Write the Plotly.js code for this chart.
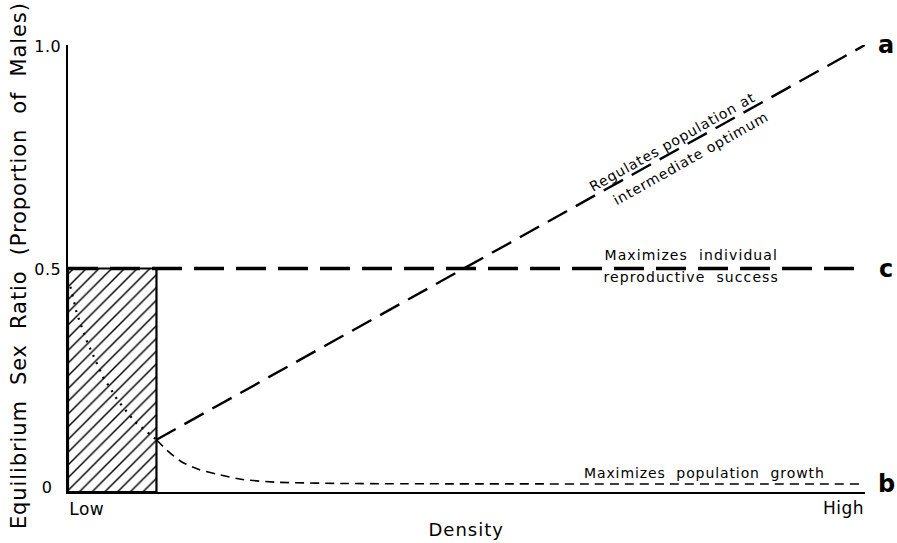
<!DOCTYPE html>
<html>
<head>
<meta charset="utf-8">
<script src="https://cdn.plot.ly/plotly-3.0.1.min.js"></script>
<style>html,body{margin:0;padding:0;background:#fff;}#chart{width:897px;height:543px;}</style>
</head>
<body>
<div id="chart"></div>
<script>
// ---- data (Density: 0 = Low, 1 = High; Sex ratio: proportion of males) ----
var yTickVals = [0, 0.5, 1];
var yTickText = ["0", "0.5", "1.0"];
var xEndLabels = ["Low", "High"];
var xEndVals = [0, 1];

var hatchDensity = [0, 0, 0.111, 0.111, 0];
var hatchRatio = [0, 0.5, 0.5, 0, 0];

var densityA = [0.111, 1];
var ratioA = [0.117, 1.0];

var densityC = [0, 1];
var ratioC = [0.5, 0.5];

var densityB = [0.111, 0.122, 0.133, 0.144, 0.165, 0.187, 0.219, 0.26, 0.35, 1];
var ratioB = [0.117, 0.097, 0.080, 0.066, 0.050, 0.040, 0.028, 0.022, 0.019, 0.018];

var densityDot = [0.003, 0.011, 0.023, 0.034, 0.044, 0.052, 0.062, 0.074, 0.084, 0.092, 0.103, 0.111];
var ratioDot = [0.459, 0.400, 0.340, 0.295, 0.257, 0.235, 0.206, 0.179, 0.157, 0.145, 0.128, 0.117];

var curveLetters = ["a", "c", "b"];
var curveLetterY = [ratioA[ratioA.length - 1], ratioC[ratioC.length - 1], ratioB[ratioB.length - 1]];

var labelA1 = "Regulates population at";
var labelA2 = "intermediate optimum";
var labelC1 = "Maximizes  individual";
var labelC2 = "reproductive  success";
var labelB = "Maximizes  population  growth";
var xTitle = "Density";
var yTitle = "Equilibrium  Sex  Ratio  (Proportion  of  Males)";

var FONT = "DejaVu Sans, Liberation Sans, Arial, sans-serif";

var traces = [
  {x: hatchDensity, y: hatchRatio, type: "scatter", mode: "lines", fill: "toself",
   fillcolor: "white",
   fillpattern: {shape: "/", size: 9, solidity: 0.16, fgcolor: "black", bgcolor: "white"},
   line: {color: "black", width: 2.2}, hoverinfo: "skip"},
  {x: densityDot, y: ratioDot, type: "scatter", mode: "lines", line: {color: "black", width: 2.2, dash: "2px,6px"}},
  {x: densityB, y: ratioB, type: "scatter", mode: "lines", line: {color: "black", width: 1.6, dash: "9px,6px", shape: "spline", smoothing: 0.6}},
  {x: densityA, y: ratioA, type: "scatter", mode: "lines", line: {color: "black", width: 2.4, dash: "22px,10px"}},
  {x: densityC, y: ratioC, type: "scatter", mode: "lines", line: {color: "black", width: 3.5, dash: "30px,12px"}}
];

var annotations = [];
var spacing = [];
function addAnn(a, ls) { annotations.push(a); spacing.push(ls || 0); }

// y tick labels (centered, like the hand lettering)
for (var t = 0; t < yTickVals.length; t++) {
  addAnn({xref: "paper", yref: "y", x: 0, xshift: -21, y: yTickVals[t], yshift: yTickVals[t] === 0 ? 5 : -1,
    text: yTickText[t], showarrow: false, xanchor: "center", yanchor: "middle",
    font: {family: FONT, size: 16, color: "black"}}, 0.5);
}
// end labels on x axis
addAnn({xref: "x", yref: "paper", x: xEndVals[0], y: 0, yshift: -17, text: xEndLabels[0],
  showarrow: false, xanchor: "left", yanchor: "middle", font: {family: FONT, size: 17, color: "black"}}, 0.5);
addAnn({xref: "x", yref: "paper", x: xEndVals[1], y: 0, yshift: -16, text: xEndLabels[1],
  showarrow: false, xanchor: "right", yanchor: "middle", font: {family: FONT, size: 17, color: "black"}}, 0.5);
// axis titles
addAnn({xref: "paper", yref: "paper", x: 0.5, y: 0, yshift: -37, text: xTitle,
  showarrow: false, xanchor: "center", yanchor: "middle", font: {family: FONT, size: 18, color: "black"}}, 1);
addAnn({xref: "paper", yref: "paper", x: 0, y: 0.5, xshift: -50, yshift: 3,
  text: yTitle, textangle: -90,
  showarrow: false, xanchor: "center", yanchor: "middle", font: {family: FONT, size: 21, color: "black"}}, 0.9);
// curve letters
for (var i = 0; i < curveLetters.length; i++) {
  addAnn({xref: "paper", yref: "y", x: 1, xshift: 21, y: curveLetterY[i], text: curveLetters[i],
    showarrow: false, xanchor: "center", yanchor: "middle", font: {family: FONT, size: 24, color: "black", weight: "bold"}}, 0);
}
// curve descriptions
addAnn({xref: "x", yref: "y", x: 0.758, y: 0.783, text: labelA1, textangle: -29.3,
  showarrow: false, xanchor: "center", yanchor: "middle", font: {family: FONT, size: 14, color: "black"}}, 0.9);
addAnn({xref: "x", yref: "y", x: 0.782, y: 0.747, text: labelA2, textangle: -29.3,
  showarrow: false, xanchor: "center", yanchor: "middle", font: {family: FONT, size: 14, color: "black"}}, 0.9);
addAnn({xref: "x", yref: "y", x: 0.782, y: 0.530, text: labelC1,
  showarrow: false, xanchor: "center", yanchor: "middle", font: {family: FONT, size: 14, color: "black"}}, 1.1);
addAnn({xref: "x", yref: "y", x: 0.782, y: 0.481, text: labelC2,
  showarrow: false, xanchor: "center", yanchor: "middle", font: {family: FONT, size: 14, color: "black"}}, 1.1);
addAnn({xref: "x", yref: "y", x: 0.799, y: 0.0425, text: labelB,
  showarrow: false, xanchor: "center", yanchor: "middle", font: {family: FONT, size: 14, color: "black"}}, 0.9);

var layout = {
  width: 897, height: 543,
  margin: {l: 68, r: 32, t: 45, b: 51},
  paper_bgcolor: "white", plot_bgcolor: "white",
  showlegend: false,
  font: {family: FONT, color: "black"},
  xaxis: {range: [0, 1], showgrid: false, zeroline: false, showline: true, linecolor: "black", linewidth: 2,
          showticklabels: false, ticks: "", fixedrange: true},
  yaxis: {range: [0, 1], showgrid: false, zeroline: false, showline: true, linecolor: "black", linewidth: 2.5,
          tickvals: yTickVals, showticklabels: false, ticks: "inside", ticklen: 8, tickwidth: 2.5, tickcolor: "black",
          fixedrange: true},
  annotations: annotations
};

Plotly.newPlot("chart", traces, layout, {displayModeBar: false, staticPlot: true}).then(function (gd) {
  var groups = gd.querySelectorAll("g.annotation");
  groups.forEach(function (g) {
    var idx = +g.getAttribute("data-index");
    var txt = g.querySelector("text.annotation-text");
    if (txt && spacing[idx]) txt.style.letterSpacing = spacing[idx] + "px";
  });
});
</script>
</body>
</html>
